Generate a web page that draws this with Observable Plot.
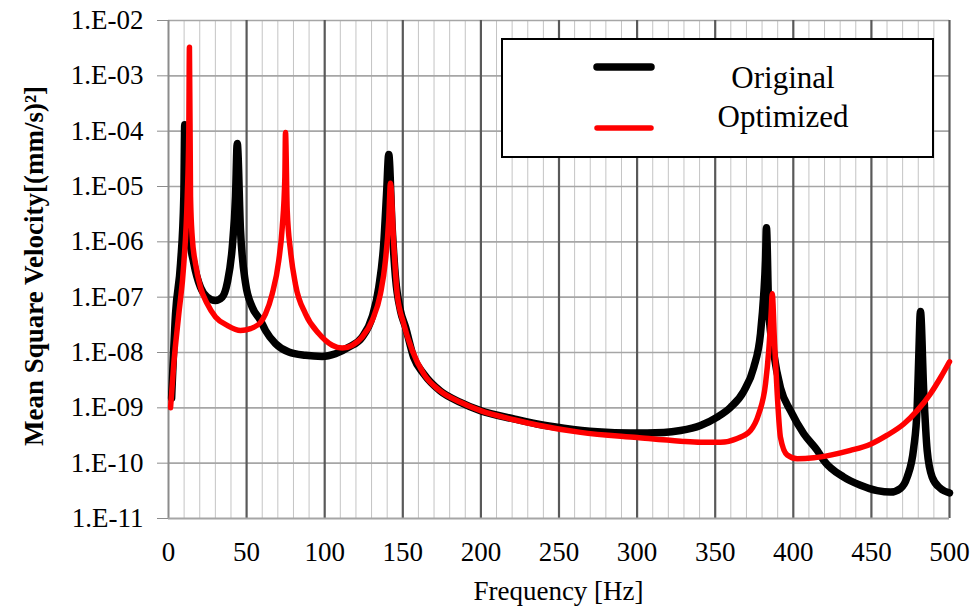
<!DOCTYPE html>
<html><head><meta charset="utf-8">
<script src="https://cdn.jsdelivr.net/npm/d3@7"></script>
<script src="https://cdn.jsdelivr.net/npm/@observablehq/plot@0.6"></script>
<style>body{margin:0;background:#fff}#chart{width:979px;height:606px}#chart svg, #chart svg text{font-family:"Liberation Serif","Times New Roman",serif}</style>
</head><body><div id="chart"></div>
<script>
// ---- data ----
const seriesNames = ["Original", "Optimized"];
const origFreq = [2.0,4.5,7.7,9.8,10.4,13.0,16.2,20.5,24.8,30.1,34.4,37.6,40.8,42.9,44.0,46.1,49.3,53.6,58.9,62.1,68.5,77.0,87.7,98.4,106.9,115.4,124.0,130.4,134.6,137.8,139.6,141.0,143.2,145.3,148.5,151.7,157.0,163.4,174.1,186.9,199.7,221.1,236.0,253.1,274.5,295.8,317.1,327.8,340.6,351.3,359.8,368.3,374.7,379.0,381.1,382.2,382.8,384.3,387.5,391.8,398.2,406.7,415.3,419.5,432.3,443.0,453.7,462.2,468.6,472.9,477.1,479.3,480.3,481.4,483.5,485.7,488.9,494.2,500];
const origVal = [1.5e-9,5e-8,4e-7,6.5e-6,1.3e-4,1.6e-6,4.1e-7,1.5e-7,1.0e-7,8.7e-8,1.0e-7,1.8e-7,7.9e-7,6.5e-6,6e-5,1.6e-6,1.8e-7,6.6e-8,3.8e-8,2.5e-8,1.45e-8,1.02e-8,8.9e-9,8.5e-9,9.5e-9,1.25e-8,1.9e-8,4.4e-8,1.5e-7,9.3e-7,7.4e-6,3.8e-5,1.8e-6,2.3e-7,5.7e-8,2.9e-8,8.1e-9,4.1e-9,2.0e-9,1.26e-9,8.9e-10,6.3e-10,5.1e-10,4.3e-10,3.7e-10,3.5e-10,3.6e-10,3.9e-10,4.8e-10,6.8e-10,1.02e-9,2.0e-9,5.4e-9,2.2e-8,1.15e-7,4.6e-7,1.8e-6,5.7e-8,9.6e-9,2.3e-9,8.9e-10,3.4e-10,1.7e-10,1.12e-10,5.6e-11,4.0e-11,3.2e-11,3.0e-11,3.5e-11,5.6e-11,1.9e-10,1.02e-9,8.1e-9,5.5e-8,2.0e-9,1.7e-10,5.6e-11,3.5e-11,2.9e-11];
const optFreq = [1.3,3.4,6.6,9.8,12.0,13.0,13.4,14.1,15.2,17.3,20.5,24.8,30.1,37.6,46.1,52.5,58.9,62.1,66.4,70.6,72.8,74.5,74.9,76.0,78.1,81.3,87.7,96.2,104.8,111.2,117.6,124.0,130.4,135.7,138.9,141.0,142.1,144.2,146.4,150.6,156.0,163.4,174.1,186.9,199.7,221.1,236.0,263.8,300.1,327.8,340.6,353.4,364.1,372.6,377.9,382.2,384.3,385.9,386.5,388.0,389.7,391.8,396.1,402.5,413.1,423.8,436.6,449.4,460.1,470.7,479.3,487.8,494.2,500];
const optVal = [1.0e-9,6.3e-9,5e-8,4e-7,6.5e-6,1.0e-4,3.3e-3,6.5e-6,1.2e-6,4e-7,1.5e-7,7.6e-8,4.4e-8,3.1e-8,2.5e-8,2.7e-8,3.5e-8,5e-8,1.15e-7,4.6e-7,1.8e-6,1.5e-5,9.5e-5,3.7e-6,6.9e-7,1.7e-7,5e-8,2.2e-8,1.35e-8,1.2e-8,1.35e-8,1.9e-8,3.8e-8,1.15e-7,4.6e-7,2.5e-6,1.15e-5,9.1e-7,1.15e-7,3.3e-8,1.1e-8,4.1e-9,2.0e-9,1.26e-9,8.9e-10,6.1e-10,4.9e-10,3.6e-10,2.9e-10,2.5e-10,2.4e-10,2.4e-10,2.8e-10,3.9e-10,7.8e-10,2.7e-9,1.1e-8,5.7e-8,1.15e-7,1.45e-8,1.8e-9,2.9e-10,1.4e-10,1.2e-10,1.25e-10,1.4e-10,1.7e-10,2.2e-10,3.2e-10,5.1e-10,8.9e-10,1.8e-9,3.5e-9,6.8e-9];
const yTickExps = [-11,-10,-9,-8,-7,-6,-5,-4,-3,-2];
const xTickLabels = [0,50,100,150,200,250,300,350,400,450,500];
const xMinorTicks = [10,20,30,40,60,70,80,90,110,120,130,140,160,170,180,190,210,220,230,240,260,270,280,290,310,320,330,340,360,370,380,390,410,420,430,440,460,470,480,490];
const xTitle = "Frequency [Hz]";
const yTitle = "Mean Square Velocity[(mm/s)²]";

// ---- build tables ----
const orig = origFreq.map((f, i) => ({f, v: origVal[i]}));
const opt = optFreq.map((f, i) => ({f, v: optVal[i]}));
const yTicks = yTickExps.map(e => Math.pow(10, e));
const fmt = v => { const e = Math.round(Math.log10(v)); return "1.E" + (e < 0 ? "-" : "+") + String(Math.abs(e)).padStart(2, "0"); };

const W = 979, H = 606, ML = 168, MR = 30, MT = 20, MB = 88;
const FONT = "'Liberation Serif','Times New Roman',serif";
const plot = Plot.plot({
  width: W, height: H,
  marginLeft: ML, marginRight: MR, marginTop: MT, marginBottom: MB,
  style: {fontFamily: FONT, fontSize: "27px", background: "white", color: "black", overflow: "visible"},
  x: {domain: [0, 500]},
  y: {type: "log", domain: [1e-11, 1e-2]},
  marks: [
    Plot.ruleX(xMinorTicks, {stroke: "#c4c4c4", strokeWidth: 1}),
    Plot.ruleY(yTicks.slice(1), {stroke: "#a6a6a6", strokeWidth: 1.6}),
    Plot.ruleX(xTickLabels.slice(1), {stroke: "#595959", strokeWidth: 2.2}),
    Plot.ruleX([0], {stroke: "#8c8c8c", strokeWidth: 2}),
    Plot.ruleY([1e-11], {stroke: "#a6a6a6", strokeWidth: 2}),
    Plot.line(orig, {x: "f", y: "v", stroke: "#000", strokeWidth: 7.5, curve: "monotone-x", strokeLinecap: "round", strokeLinejoin: "round"}),
    Plot.line(opt, {x: "f", y: "v", stroke: "#ff0000", strokeWidth: 5.5, curve: "monotone-x", strokeLinecap: "round", strokeLinejoin: "round"}),
    Plot.axisY({ticks: yTicks, tickFormat: fmt, tickSize: 11, tickPadding: 14, stroke: "#8c8c8c", fontFamily: FONT, label: null}),
    Plot.axisX({ticks: xTickLabels, tickFormat: d => String(d), tickSize: 0, tickPadding: 23, fontFamily: FONT, label: null})
  ]
});
document.getElementById("chart").appendChild(plot);

// ---- titles and legend ----
const svg = d3.select(plot);
svg.append("text").text(xTitle)
  .attr("x", (ML + W - MR) / 2).attr("y", 600).attr("text-anchor", "middle")
  .attr("font-family", FONT).attr("font-size", 27).attr("fill", "black");
svg.append("text").text(yTitle)
  .attr("transform", "translate(43,266) rotate(-90)").attr("text-anchor", "middle")
  .attr("font-family", FONT).attr("font-size", 27).attr("font-weight", "bold").attr("fill", "black");
const lg = svg.append("g");
lg.append("rect").attr("x", 502).attr("y", 39).attr("width", 431).attr("height", 118)
  .attr("fill", "white").attr("stroke", "black").attr("stroke-width", 2);
const legendStyles = [{c: "#000", w: 7.5, y: 67, ty: 88}, {c: "#ff0000", w: 5.5, y: 128, ty: 127}];
seriesNames.forEach((name, i) => {
  const s = legendStyles[i];
  lg.append("line").attr("x1", 597).attr("x2", 651).attr("y1", s.y).attr("y2", s.y)
    .attr("stroke", s.c).attr("stroke-width", s.w).attr("stroke-linecap", "round");
  lg.append("text").text(name).attr("x", 783).attr("y", s.ty).attr("text-anchor", "middle")
    .attr("font-family", FONT).attr("font-size", 31).attr("fill", "black");
});
</script>
</body></html>
